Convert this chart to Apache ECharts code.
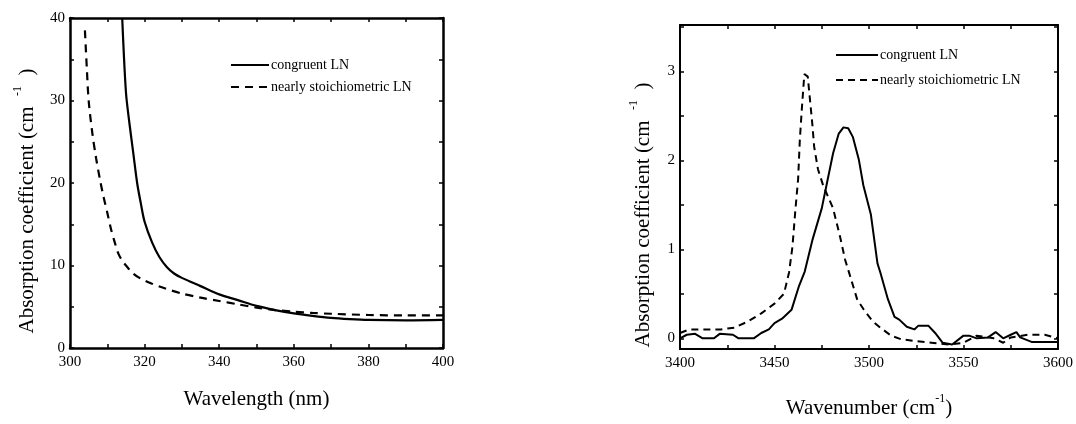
<!DOCTYPE html>
<html>
<head>
<meta charset="utf-8">
<script src="https://cdn.jsdelivr.net/npm/echarts@6/dist/echarts.min.js"></script>
<style>
  html, body { margin: 0; padding: 0; background: #fff; }
  #chart { width: 1076px; height: 424px; }
</style>
</head>
<body>
<div id="chart"></div>
<script>
// left panel: UV absorption edge
const uvXTicks = [300, 310, 320, 330, 340, 350, 360, 370, 380, 390, 400]
const uvXLabels = [300, 320, 340, 360, 380, 400]
const uvYTicks = [0, 5, 10, 15, 20, 25, 30, 35, 40]
const uvYLabels = [0, 10, 20, 30, 40]
const uvCongruent = [
  [314, 40], [315, 31], [316, 27], [317, 23.5], [318, 20], [319, 17.5], [320, 15.3],
  [322, 12.8], [324, 11], [326, 9.8], [328, 9], [330, 8.5], [335, 7.5], [340, 6.5],
  [345, 5.8], [350, 5.1], [355, 4.6], [360, 4.2], [365, 3.9], [370, 3.65], [375, 3.5],
  [380, 3.4], [390, 3.35], [400, 3.4]
]
const uvStoich = [
  [304, 38.5], [304.5, 34], [305, 30], [306, 26], [307, 23], [308, 20.5], [309, 18.3],
  [310, 16.4], [311, 14.4], [312, 12.8], [313, 11.4], [314, 10.6], [315, 10], [317, 9],
  [319, 8.4], [322, 7.8], [325, 7.3], [330, 6.6], [335, 6.1], [340, 5.7], [345, 5.3],
  [350, 4.9], [355, 4.6], [360, 4.4], [365, 4.25], [370, 4.15], [380, 4.0], [390, 3.95],
  [400, 3.95]
]

// right panel: OH absorption band
const irXTicks = [3400, 3425, 3450, 3475, 3500, 3525, 3550, 3575, 3600]
const irXLabels = [3400, 3450, 3500, 3550, 3600]
const irYTicks = [0, 0.5, 1, 1.5, 2, 2.5, 3, 3.5]
const irYLabels = [0, 1, 2, 3]
const irCongruent = [
  [3400, 0], [3403.6, 0.04], [3408, 0.05], [3412, 0], [3418, 0], [3421, 0.05], [3428, 0.04],
  [3431, 0], [3439, 0], [3443, 0.06], [3447, 0.1], [3450, 0.17], [3454, 0.22], [3459, 0.32],
  [3463, 0.59], [3466, 0.75], [3470, 1.1], [3475, 1.46], [3478, 1.77], [3481, 2.08],
  [3484, 2.3], [3486.5, 2.37], [3489, 2.36], [3491.5, 2.26], [3494.6, 2.01], [3497, 1.72],
  [3501, 1.39], [3504.5, 0.84], [3506, 0.74], [3510, 0.44], [3513.5, 0.24], [3516, 0.21],
  [3520, 0.13], [3524, 0.1], [3526, 0.14], [3531.5, 0.14], [3535, 0.06], [3539, -0.05],
  [3544, -0.07], [3550, 0.03], [3553, 0.03], [3557, 0], [3563, 0.01], [3567, 0.07],
  [3571, 0], [3575, 0.04], [3578, 0.07], [3580, 0.01], [3586, -0.04], [3600, -0.04]
]
const irStoich = [
  [3400, 0.06], [3405, 0.1], [3411, 0.1], [3421.6, 0.1], [3428.8, 0.12], [3436, 0.19],
  [3443, 0.28], [3450, 0.39], [3455, 0.5], [3457.7, 0.74], [3459.5, 1.03], [3461, 1.43],
  [3462.5, 1.79], [3463.4, 2.23], [3464.5, 2.59], [3465.8, 2.97], [3467.6, 2.94],
  [3468.5, 2.74], [3470, 2.41], [3471, 2.15], [3473, 1.9], [3475.7, 1.72], [3481, 1.46],
  [3484.7, 1.14], [3487.4, 0.88], [3490, 0.7], [3493.7, 0.44], [3497.3, 0.32], [3502, 0.19],
  [3506, 0.12], [3511.7, 0.03], [3517, -0.01], [3524, -0.03], [3533, -0.05], [3542, -0.07],
  [3550, -0.05], [3557, 0.03], [3566, 0], [3571, -0.05], [3575, 0.01], [3584, 0.04],
  [3593, 0.04], [3600, 0]
]

const FONT = 'Liberation Serif'
const nameRich = {
  a: { fontFamily: FONT, fontSize: 21, color: '#000', lineHeight: 26, verticalAlign: 'bottom' },
  s: { fontFamily: FONT, fontSize: 12, color: '#000', lineHeight: 12, verticalAlign: 'top' }
}

// one axis of the box; labels only on bottom/left
function boxAxis (gridIndex, position, min, max, ticks, labels, lineWidth, extra) {
  const withLabels = position === 'bottom' || position === 'left'
  return Object.assign({
    type: 'value',
    gridIndex: gridIndex,
    position: position,
    min: min,
    max: max,
    axisLine: { show: true, onZero: false, lineStyle: { color: '#000', width: lineWidth } },
    axisTick: { show: true, inside: true, length: 4, customValues: ticks, lineStyle: { color: '#000', width: 1.5 } },
    axisLabel: {
      show: withLabels,
      customValues: labels,
      formatter: function (v) { return String(v) },
      fontFamily: FONT,
      fontSize: 15,
      color: '#000',
      margin: position === 'left' ? 5 : 7
    },
    splitLine: { show: false }
  }, extra || {})
}

function legendBox (left, top, itemWidth, itemGap, names) {
  return {
    orient: 'vertical',
    left: left,
    top: top,
    padding: 0,
    itemWidth: itemWidth,
    itemHeight: 14,
    itemGap: itemGap,
    data: names,
    itemStyle: { opacity: 0 },
    textStyle: { fontFamily: FONT, fontSize: 14, color: '#000', padding: [0, 0, 0, -3] }
  }
}

const chart = echarts.init(document.getElementById('chart'))
chart.setOption({
  animation: false,
  backgroundColor: '#fff',
  grid: [
    { left: 70, top: 18, width: 373, height: 330 },
    { left: 680, top: 25, width: 378, height: 333 }
  ],
  legend: [
    legendBox(230, 58, 38, 8, ['congruent LN', 'nearly stoichiometric LN']),
    legendBox(835, 48, 42, 11, ['congruent LN ', 'nearly stoichiometric LN '])
  ],
  xAxis: [
    boxAxis(0, 'bottom', 300, 400, uvXTicks, uvXLabels, 2.5, {
      name: '{a|Wavelength (nm)}',
      nameLocation: 'middle',
      nameGap: 36,
      nameTextStyle: { rich: nameRich }
    }),
    boxAxis(0, 'top', 300, 400, uvXTicks, uvXLabels, 2.5),
    boxAxis(1, 'bottom', 3400, 3600, irXTicks, irXLabels, 2, {
      name: '{a|Wavenumber (cm}{s|-1}{a|)}',
      nameLocation: 'middle',
      nameGap: 44,
      nameTextStyle: { rich: nameRich }
    }),
    boxAxis(1, 'top', 3400, 3600, irXTicks, irXLabels, 2)
  ],
  yAxis: [
    boxAxis(0, 'left', 0, 40, uvYTicks, uvYLabels, 2.5, {
      name: '{a|Absorption coefficient (cm  }{s|-1}{a|  )}',
      nameLocation: 'middle',
      nameGap: 32,
      nameTextStyle: { rich: nameRich, padding: [0, 36, 0, 0] }
    }),
    boxAxis(0, 'right', 0, 40, uvYTicks, uvYLabels, 2.5),
    boxAxis(1, 'left', -0.12, 3.52, irYTicks, irYLabels, 2, {
      name: '{a|Absorption coefficient (cm  }{s|-1}{a|  )}',
      nameLocation: 'middle',
      nameGap: 26,
      nameTextStyle: { rich: nameRich, padding: [0, 56, 0, 0] }
    }),
    boxAxis(1, 'right', -0.12, 3.52, irYTicks, irYLabels, 2)
  ],
  series: [
    {
      name: 'congruent LN',
      type: 'line',
      xAxisIndex: 0,
      yAxisIndex: 0,
      data: uvCongruent,
      symbol: 'none',
      smooth: 0.3,
      lineStyle: { color: '#000', width: 2.2 },
      itemStyle: { color: '#000' }
    },
    {
      name: 'nearly stoichiometric LN',
      type: 'line',
      xAxisIndex: 0,
      yAxisIndex: 0,
      data: uvStoich,
      symbol: 'none',
      smooth: 0.3,
      lineStyle: { color: '#000', width: 2.2, type: [8, 6] },
      itemStyle: { color: '#000' }
    },
    {
      name: 'congruent LN ',
      type: 'line',
      xAxisIndex: 2,
      yAxisIndex: 2,
      data: irCongruent,
      symbol: 'none',
      lineStyle: { color: '#000', width: 2 },
      itemStyle: { color: '#000' }
    },
    {
      name: 'nearly stoichiometric LN ',
      type: 'line',
      xAxisIndex: 2,
      yAxisIndex: 2,
      data: irStoich,
      symbol: 'none',
      lineStyle: { color: '#000', width: 2, type: [7, 5] },
      itemStyle: { color: '#000' }
    }
  ]
})
</script>
</body>
</html>
